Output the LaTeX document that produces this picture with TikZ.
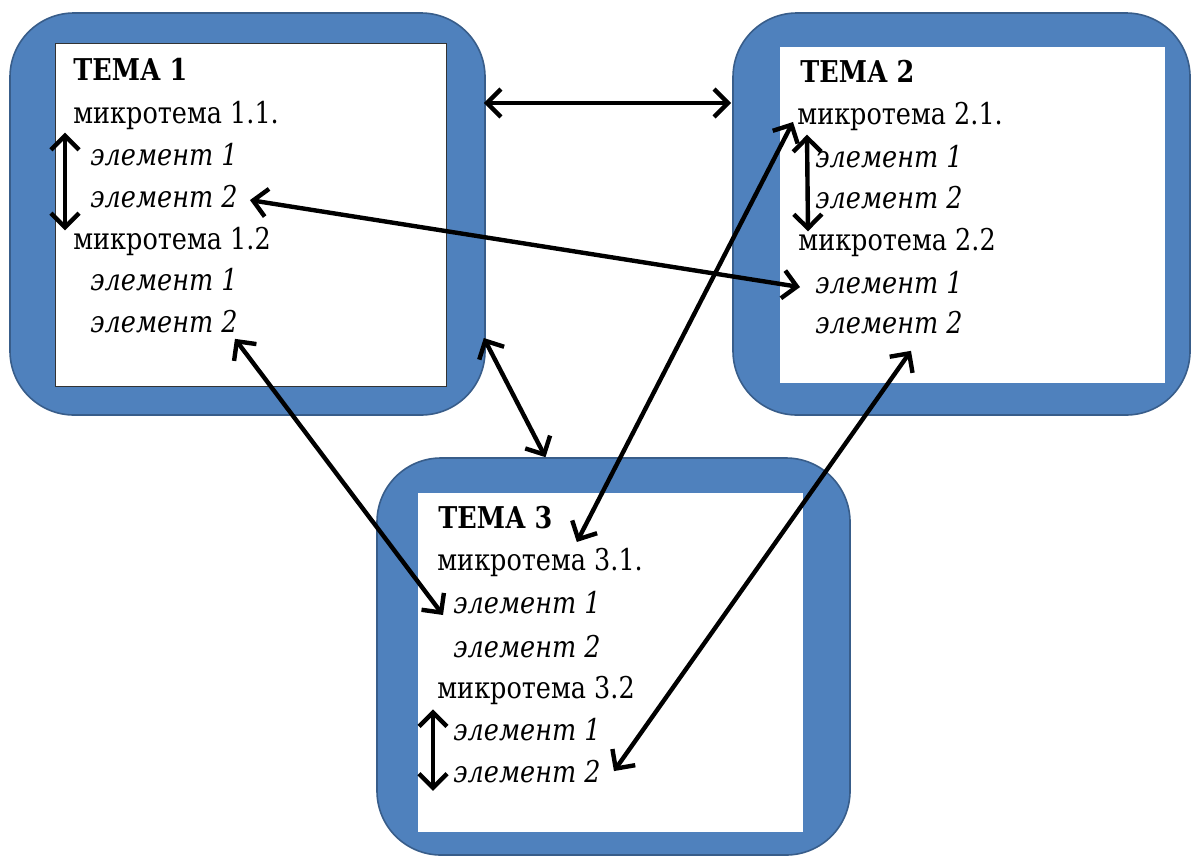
\documentclass[tikz,border=0pt]{standalone}
\usepackage{fontspec}
\setmainfont{DejaVu Serif}[FakeStretch=0.85]
\usetikzlibrary{arrows.meta}
\definecolor{frameblue}{RGB}{79,129,189}
\definecolor{frameedge}{RGB}{56,93,138}
\tikzset{
  outerbox/.style={draw=frameedge, line width=0.8pt, fill=frameblue,
    rounded corners=32pt, inner sep=0pt},
  innerbox/.style={fill=white, inner sep=0pt},
  tema/.style={anchor=base west, inner sep=0pt, font=\fontsize{15}{18}\selectfont\bfseries},
  mtema/.style={anchor=base west, inner sep=0pt, font=\fontsize{15}{18}\selectfont},
  elem/.style={anchor=base west, inner sep=0pt, font=\fontsize{15}{18}\selectfont\itshape},
  link/.style={line width=2.2pt, {Straight Barb[length=7pt,width=14pt]}-{Straight Barb[length=7pt,width=14pt]}}
}
\begin{document}
\begin{tikzpicture}[x=0.5pt,y=-0.5pt]
  \useasboundingbox (0,0) rectangle (1192,857);
  % frames of the three themes
  \node[outerbox, minimum width=237.5pt, minimum height=201pt] (box1) at (247.5,214) {};
  \node[innerbox, draw=black!80, line width=0.5pt, minimum width=195.5pt, minimum height=171.5pt] (in1) at (250.5,214.5) {};
  \node[outerbox, minimum width=228.5pt, minimum height=201pt] (box2) at (961.5,214) {};
  \node[innerbox, minimum width=192.5pt, minimum height=168pt] (in2) at (972.5,215) {};
  \node[outerbox, minimum width=236.5pt, minimum height=198.5pt] (box3) at (613.5,656.5) {};
  \node[innerbox, minimum width=192.5pt, minimum height=169.5pt] (in3) at (610.5,662.5) {};
  % theme 1
  \node[tema]  (t1)   at (73,80)  {ТЕМА 1};
  \node[mtema] (m11)  at (73,123) {микротема 1.1.};
  \node[elem]  (e111) at (90,165) {элемент 1};
  \node[elem]  (e112) at (90,207) {элемент 2};
  \node[mtema] (m12)  at (73,249) {микротема 1.2};
  \node[elem]  (e121) at (90,290) {элемент 1};
  \node[elem]  (e122) at (90,332) {элемент 2};
  % theme 2
  \node[tema]  (t2)   at (800,82)  {ТЕМА 2};
  \node[mtema] (m21)  at (797,124) {микротема 2.1.};
  \node[elem]  (e211) at (815,167) {элемент 1};
  \node[elem]  (e212) at (815,208) {элемент 2};
  \node[mtema] (m22)  at (798,250) {микротема 2.2};
  \node[elem]  (e221) at (815,293) {элемент 1};
  \node[elem]  (e222) at (815,333) {элемент 2};
  % theme 3
  \node[tema]  (t3)   at (438,528) {ТЕМА 3};
  \node[mtema] (m31)  at (437,570) {микротема 3.1.};
  \node[elem]  (e311) at (453,613) {элемент 1};
  \node[elem]  (e312) at (453,657) {элемент 2};
  \node[mtema] (m32)  at (437,698) {микротема 3.2};
  \node[elem]  (e321) at (453,740) {элемент 1};
  \node[elem]  (e322) at (453,782) {элемент 2};
  % links between the themes
  \draw[link] ([xshift=-1pt,yshift=55.5pt]box1.east) -- ([xshift=-0.5pt,yshift=55.5pt]box2.west);
  \draw[link] ([xshift=-1pt,yshift=-62pt]box1.east) -- ([xshift=-34pt]box3.north);
  % links inside the themes
  \draw[link] ([xshift=-4pt,yshift=-1.5pt]m11.south west) -- ([xshift=-4pt,yshift=-2pt]m12.north west);
  \draw[link] ([xshift=5pt,yshift=-2pt]m21.south west) -- ([xshift=5pt,yshift=-2pt]m22.north west);
  \draw[link] ([xshift=-10pt,yshift=4pt]e321.north west) -- ([xshift=-10pt,yshift=-4pt]e322.south west);
  % links between elements
  \draw[link] ([xshift=6pt,yshift=-2pt]e112.east) -- ([xshift=-7.5pt,yshift=-2.5pt]e221.west);
  \draw[link] ([xshift=-1.5pt,yshift=-3pt]e122.south east) -- ([xshift=-5pt,yshift=-1pt]e311.base west);
  \draw[link] ([xshift=-2pt,yshift=1pt]m21.base west) -- ([xshift=12pt,yshift=-7pt]t3.base east);
  \draw[link] ([xshift=11pt,yshift=-8.5pt]e222.south) -- ([xshift=6.5pt]e322.east);
\end{tikzpicture}
\end{document}
